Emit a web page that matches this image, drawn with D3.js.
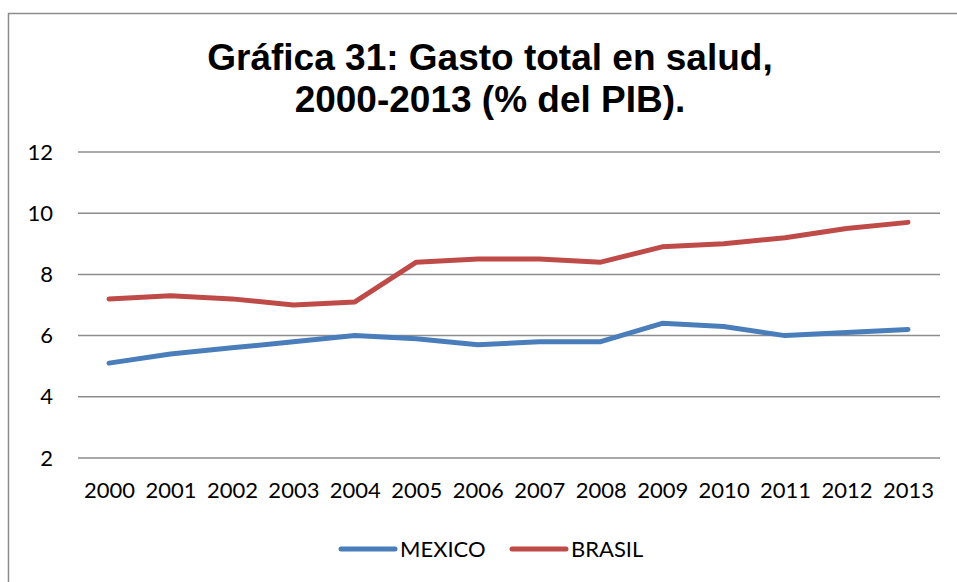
<!DOCTYPE html>
<html lang="es">
<head>
<meta charset="UTF-8">
<title>Gráfica 31</title>
<script src="https://d3js.org/d3.v7.min.js"></script>
<style>
body { margin: 0; background: #fff; }
svg { display: block; }
.title { font-family: "Liberation Sans", Arial, sans-serif; font-weight: bold; font-size: 37px; fill: #000; text-anchor: middle; }
.tick text, .legend text { font-family: Lato, "Open Sans", sans-serif; font-size: 22px; fill: #000; }
</style>
</head>
<body>
<svg id="chart" width="957" height="582"></svg>
<script>
const years = ["2000","2001","2002","2003","2004","2005","2006","2007","2008","2009","2010","2011","2012","2013"];
const mexico = [5.1, 5.4, 5.6, 5.8, 6.0, 5.9, 5.7, 5.8, 5.8, 6.4, 6.3, 6.0, 6.1, 6.2];
const brasil = [7.2, 7.3, 7.2, 7.0, 7.1, 8.4, 8.5, 8.5, 8.4, 8.9, 9.0, 9.2, 9.5, 9.7];
const yTicks = [2, 4, 6, 8, 10, 12];

const series = [
  { name: "MEXICO", values: mexico, color: "#4a7ebb" },
  { name: "BRASIL", values: brasil, color: "#be4b48" }
];

const svg = d3.select("#chart");

// outer frame (cropped on right and bottom like the original)
svg.append("rect")
  .attr("x", 8.5).attr("y", 13.5)
  .attr("width", 980).attr("height", 600)
  .attr("fill", "none").attr("stroke", "#8c8c8c").attr("stroke-width", 1.5);

svg.append("text").attr("class", "title").attr("x", 490).attr("y", 70).text("Gráfica 31: Gasto total en salud,");
svg.append("text").attr("class", "title").attr("x", 490).attr("y", 112).text("2000-2013 (% del PIB).");

const x = d3.scalePoint().domain(years).range([109, 908]);
const y = d3.scaleLinear().domain([2, 12]).range([458, 152]);

// gridlines
svg.append("g")
  .selectAll("line")
  .data(yTicks)
  .join("line")
  .attr("x1", 78).attr("x2", 940)
  .attr("y1", d => y(d)).attr("y2", d => y(d))
  .attr("stroke", "#8c8c8c").attr("stroke-width", 1.5);

// y axis labels
const yAxis = svg.append("g")
  .attr("transform", "translate(53,0)")
  .call(d3.axisLeft(y).tickValues(yTicks).tickSize(0).tickPadding(0));
yAxis.select(".domain").remove();
yAxis.selectAll("text").attr("font-family", null).attr("font-size", null);

// x axis labels
const xAxis = svg.append("g")
  .attr("transform", "translate(0,482)")
  .call(d3.axisBottom(x).tickSize(0).tickPadding(0));
xAxis.select(".domain").remove();
xAxis.selectAll("text").attr("font-family", null).attr("font-size", null).attr("dy", "0.71em");

const line = d3.line()
  .x((d, i) => x(years[i]))
  .y(d => y(d));

svg.append("g")
  .selectAll("path")
  .data(series)
  .join("path")
  .attr("d", d => line(d.values))
  .attr("fill", "none")
  .attr("stroke", d => d.color)
  .attr("stroke-width", 5)
  .attr("stroke-linecap", "round")
  .attr("stroke-linejoin", "round");

// legend
const legend = svg.append("g").attr("class", "legend")
  .selectAll("g")
  .data(series)
  .join("g")
  .attr("transform", (d, i) => `translate(${[341, 512][i]},549)`);
legend.append("line")
  .attr("x1", 0).attr("x2", 54)
  .attr("stroke", d => d.color).attr("stroke-width", 5).attr("stroke-linecap", "round");
legend.append("text")
  .attr("x", 59).attr("dy", "0.35em")
  .text(d => d.name);
</script>
</body>
</html>
